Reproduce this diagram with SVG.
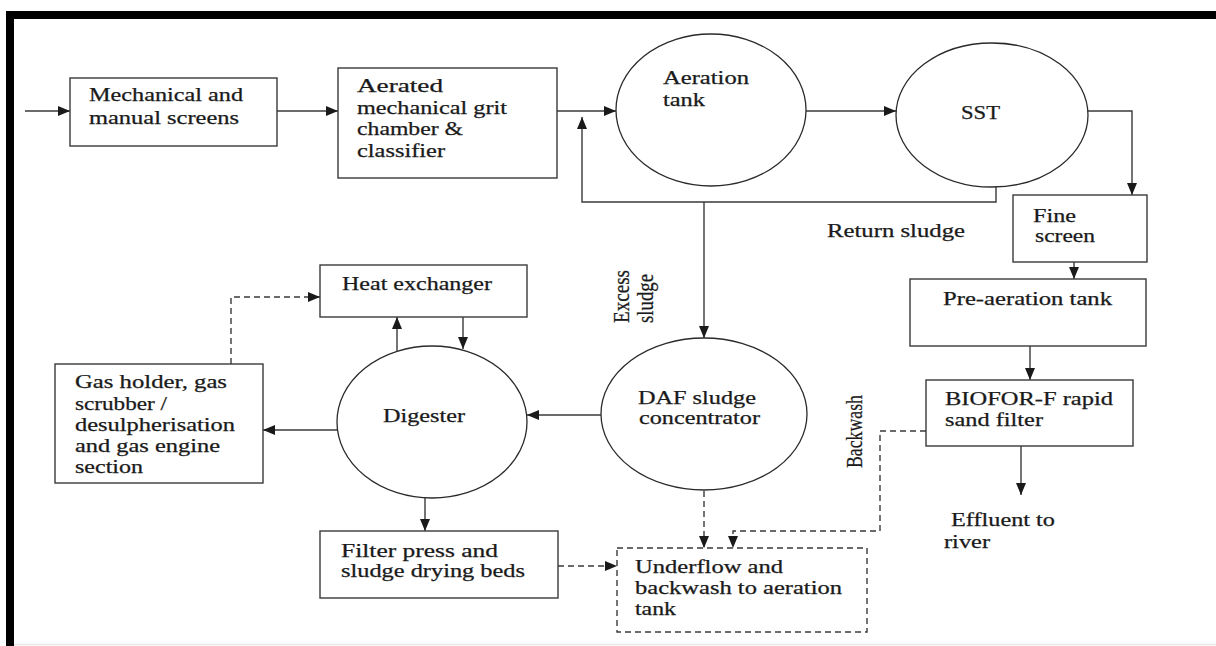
<svg xmlns="http://www.w3.org/2000/svg" width="1216" height="646" viewBox="0 0 1216 646">
  <defs>
    <style>
      .box { fill: #ffffff; stroke: #3a3a3a; stroke-width: 1.4; }
      .dbox { fill: #ffffff; stroke: #3a3a3a; stroke-width: 1.4; stroke-dasharray: 6 4; }
      .tank { fill: #ffffff; stroke: #2a2a2a; stroke-width: 1.3; }
      .flow { fill: none; stroke: #3a3a3a; stroke-width: 1.4; }
      .dash { fill: none; stroke: #3a3a3a; stroke-width: 1.4; stroke-dasharray: 6 4; }
      .lbl { font-family: "Liberation Serif", "Times New Roman", serif; font-size: 18px; fill: #1a1a1a; stroke: #1a1a1a; stroke-width: 0.25; }
      .vlbl { font-family: "Liberation Serif", "Times New Roman", serif; font-size: 18.5px; fill: #1a1a1a; stroke: #1a1a1a; stroke-width: 0.2; }
    </style>
    <marker id="arrow" markerUnits="userSpaceOnUse" markerWidth="12" markerHeight="10" refX="12" refY="5" orient="auto">
      <path d="M0,0 L12,5 L0,10 z" fill="#1a1a1a"/>
    </marker>
  </defs>

  <rect width="1216" height="646" fill="#ffffff"/>

  <!-- frame -->
  <g id="frame">
    <rect x="6" y="11" width="1210" height="8" fill="#000000"/>
    <rect x="6" y="11" width="8" height="635" fill="#000000"/>
    <line x1="14" y1="644.5" x2="1216" y2="644.5" stroke="#e6e6e6" stroke-width="1.5"/>
  </g>

  <!-- connectors -->
  <g id="connectors">
    <line class="flow" x1="25" y1="111" x2="70" y2="111" marker-end="url(#arrow)"/>
    <line class="flow" x1="277" y1="111" x2="338" y2="111" marker-end="url(#arrow)"/>
    <line class="flow" x1="557" y1="111" x2="616" y2="111" marker-end="url(#arrow)"/>
    <line class="flow" x1="806" y1="111" x2="896" y2="111" marker-end="url(#arrow)"/>
    <!-- return sludge loop -->
    <polyline class="flow" points="996,187 996,202 582,202 582,117" marker-end="url(#arrow)"/>
    <!-- excess sludge -->
    <line class="flow" x1="704" y1="202" x2="704" y2="338" marker-end="url(#arrow)"/>
    <!-- SST to fine screen -->
    <polyline class="flow" points="1088,111 1132,111 1132,195" marker-end="url(#arrow)"/>
    <line class="flow" x1="1074" y1="262" x2="1074" y2="279" marker-end="url(#arrow)"/>
    <line class="flow" x1="1030" y1="346" x2="1030" y2="380" marker-end="url(#arrow)"/>
    <line class="flow" x1="1021" y1="446" x2="1021" y2="495" marker-end="url(#arrow)"/>
    <!-- backwash -->
    <polyline class="dash" points="926,431 880,431 880,531 733,531 733,548" marker-end="url(#arrow)"/>
    <!-- DAF underflow -->
    <line class="dash" x1="704" y1="491" x2="704" y2="548" marker-end="url(#arrow)"/>
    <!-- filter press filtrate -->
    <line class="dash" x1="558" y1="566" x2="617" y2="566" marker-end="url(#arrow)"/>
    <!-- DAF to digester -->
    <line class="flow" x1="601" y1="415" x2="527" y2="415" marker-end="url(#arrow)"/>
    <!-- digester to gas holder -->
    <line class="flow" x1="338" y1="430" x2="263" y2="430" marker-end="url(#arrow)"/>
    <!-- digester to filter press -->
    <line class="flow" x1="425" y1="498" x2="425" y2="531" marker-end="url(#arrow)"/>
    <!-- digester / heat exchanger loop -->
    <line class="flow" x1="397" y1="351" x2="397" y2="317" stroke="#6a6a6a" stroke-width="2.4" marker-end="url(#arrow)"/>
    <line class="flow" x1="463" y1="317" x2="463" y2="349" marker-end="url(#arrow)"/>
    <!-- biogas to heat exchanger -->
    <polyline class="dash" points="231,364 231,297 320,297" marker-end="url(#arrow)"/>
  </g>

  <g id="screens">
    <rect class="box" x="70" y="78" width="207" height="68"/>
    <text class="lbl" x="89" y="101" textLength="154" lengthAdjust="spacingAndGlyphs">Mechanical and</text>
    <text class="lbl" x="89" y="124" textLength="150" lengthAdjust="spacingAndGlyphs">manual screens</text>
  </g>

  <g id="grit-chamber">
    <rect class="box" x="338" y="68" width="219" height="110"/>
    <text class="lbl" x="357" y="92" textLength="86" lengthAdjust="spacingAndGlyphs">Aerated</text>
    <text class="lbl" x="357" y="114" textLength="150" lengthAdjust="spacingAndGlyphs">mechanical grit</text>
    <text class="lbl" x="357" y="135" textLength="106" lengthAdjust="spacingAndGlyphs">chamber &amp;</text>
    <text class="lbl" x="357" y="157" textLength="88" lengthAdjust="spacingAndGlyphs">classifier</text>
  </g>

  <g id="aeration-tank">
    <ellipse class="tank" cx="711" cy="110" rx="95" ry="76"/>
    <text class="lbl" x="663" y="84" textLength="86" lengthAdjust="spacingAndGlyphs">Aeration</text>
    <text class="lbl" x="663" y="106" textLength="42" lengthAdjust="spacingAndGlyphs">tank</text>
  </g>

  <g id="sst">
    <ellipse class="tank" cx="992" cy="115" rx="96" ry="72"/>
    <text class="lbl" x="961" y="119" textLength="39" lengthAdjust="spacingAndGlyphs">SST</text>
  </g>

  <g id="return-sludge-label">
    <text class="lbl" x="827" y="237" textLength="138" lengthAdjust="spacingAndGlyphs">Return sludge</text>
  </g>

  <g id="excess-sludge-label">
    <text class="vlbl" transform="translate(629,323) rotate(-90) scale(1,1.3)" textLength="53" lengthAdjust="spacingAndGlyphs">Excess</text>
    <text class="vlbl" transform="translate(653,323) rotate(-90) scale(1,1.3)" textLength="49" lengthAdjust="spacingAndGlyphs">sludge</text>
  </g>

  <g id="fine-screen">
    <rect class="box" x="1013" y="195" width="134" height="67"/>
    <text class="lbl" x="1033" y="222" textLength="43" lengthAdjust="spacingAndGlyphs">Fine</text>
    <text class="lbl" x="1035" y="242" textLength="60" lengthAdjust="spacingAndGlyphs">screen</text>
  </g>

  <g id="pre-aeration">
    <rect class="box" x="910" y="279" width="236" height="67"/>
    <text class="lbl" x="943" y="305" textLength="169" lengthAdjust="spacingAndGlyphs">Pre-aeration tank</text>
  </g>

  <g id="biofor-filter">
    <rect class="box" x="926" y="380" width="207" height="66"/>
    <text class="lbl" x="945" y="405" textLength="168" lengthAdjust="spacingAndGlyphs">BIOFOR-F rapid</text>
    <text class="lbl" x="945" y="426" textLength="98" lengthAdjust="spacingAndGlyphs">sand filter</text>
  </g>

  <g id="backwash-label">
    <text class="vlbl" transform="translate(862,468) rotate(-90) scale(1,1.3)" textLength="73" lengthAdjust="spacingAndGlyphs">Backwash</text>
  </g>

  <g id="effluent">
    <text class="lbl" x="951" y="526" textLength="104" lengthAdjust="spacingAndGlyphs">Effluent to</text>
    <text class="lbl" x="944" y="548" textLength="46" lengthAdjust="spacingAndGlyphs">river</text>
  </g>

  <g id="heat-exchanger">
    <rect class="box" x="320" y="265" width="207" height="52"/>
    <text class="lbl" x="342" y="290" textLength="150" lengthAdjust="spacingAndGlyphs">Heat exchanger</text>
  </g>

  <g id="digester">
    <ellipse class="tank" cx="432" cy="422" rx="95" ry="76"/>
    <text class="lbl" x="383" y="422" textLength="82" lengthAdjust="spacingAndGlyphs">Digester</text>
  </g>

  <g id="daf-concentrator">
    <ellipse class="tank" cx="704" cy="414" rx="103" ry="76"/>
    <text class="lbl" x="638" y="404" textLength="118" lengthAdjust="spacingAndGlyphs">DAF sludge</text>
    <text class="lbl" x="639" y="424" textLength="121" lengthAdjust="spacingAndGlyphs">concentrator</text>
  </g>

  <g id="gas-holder">
    <rect class="box" x="55" y="364" width="208" height="119"/>
    <text class="lbl" x="75" y="388" textLength="152" lengthAdjust="spacingAndGlyphs">Gas holder, gas</text>
    <text class="lbl" x="75" y="410" textLength="92" lengthAdjust="spacingAndGlyphs">scrubber /</text>
    <text class="lbl" x="75" y="431" textLength="160" lengthAdjust="spacingAndGlyphs">desulpherisation</text>
    <text class="lbl" x="75" y="452" textLength="145" lengthAdjust="spacingAndGlyphs">and gas engine</text>
    <text class="lbl" x="75" y="473" textLength="68" lengthAdjust="spacingAndGlyphs">section</text>
  </g>

  <g id="filter-press">
    <rect class="box" x="320" y="531" width="238" height="67"/>
    <text class="lbl" x="341" y="557" textLength="157" lengthAdjust="spacingAndGlyphs">Filter press  and</text>
    <text class="lbl" x="341" y="577" textLength="184" lengthAdjust="spacingAndGlyphs">sludge drying beds</text>
  </g>

  <g id="underflow">
    <rect class="dbox" x="617" y="548" width="250" height="84"/>
    <text class="lbl" x="635" y="573" textLength="148" lengthAdjust="spacingAndGlyphs">Underflow and</text>
    <text class="lbl" x="635" y="594" textLength="207" lengthAdjust="spacingAndGlyphs">backwash to aeration</text>
    <text class="lbl" x="635" y="615" textLength="41" lengthAdjust="spacingAndGlyphs">tank</text>
  </g>
</svg>
